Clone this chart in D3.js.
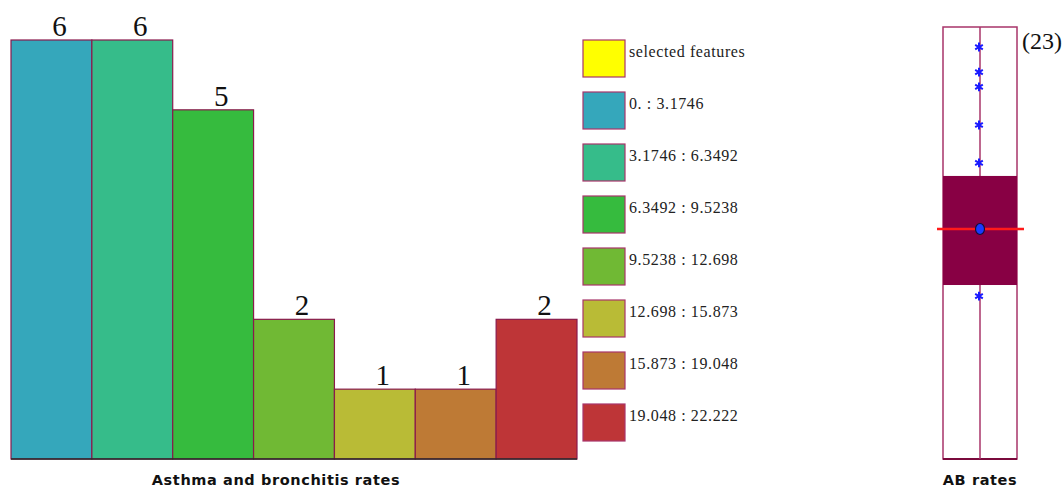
<!DOCTYPE html>
<html>
<head>
<meta charset="utf-8">
<script src="https://cdn.jsdelivr.net/npm/d3@7/dist/d3.min.js"></script>
<style>
  html, body { margin: 0; padding: 0; background: #fff; }
  svg { display: block; }
</style>
</head>
<body>
<svg id="chart" width="1064" height="488"></svg>
<script>
// Histogram of asthma and bronchitis rates (natural-break classes)
const classLabels = ["0. : 3.1746", "3.1746 : 6.3492", "6.3492 : 9.5238", "9.5238 : 12.698",
                     "12.698 : 15.873", "15.873 : 19.048", "19.048 : 22.222"];
const classCounts = [6, 6, 5, 2, 1, 1, 2];
const classColors = ["#35a7bb", "#36bc8a", "#36bb3e", "#70b934", "#b9bb36", "#be7a35", "#be3537"];
const selectedLabel = "selected features";
const selectedColor = "#ffff00";

// Box plot of AB rates
const boxCount = 23;
const boxDomain = [0, 22.222];
const boxQ1 = 8.95;
const boxQ3 = 14.56;
const boxMedian = 11.83;
const boxMean = 11.83;
const boxPoints = [21.19, 19.90, 19.14, 17.18, 15.23, 8.38];

const svg = d3.select("#chart");
const edge = "#8a1a4c";
const serif = "Liberation Serif, Times New Roman, serif";
const sans = "DejaVu Sans, Verdana, sans-serif";

// ---- histogram ----
const histLeft = 11, histRight = 577, histTop = 40, histBottom = 459;
const x = d3.scaleBand().domain(d3.range(classCounts.length)).range([histLeft, histRight]).padding(0);
const y = d3.scaleLinear().domain([0, d3.max(classCounts)]).range([histBottom, histTop]);

const hist = svg.append("g");
hist.selectAll("rect.bar").data(classCounts).join("rect")
  .attr("class", "bar")
  .attr("x", (d, i) => x(i))
  .attr("y", d => y(d))
  .attr("width", x.bandwidth())
  .attr("height", d => y(0) - y(d))
  .attr("fill", (d, i) => classColors[i])
  .attr("stroke", edge)
  .attr("stroke-width", 1.2);

hist.append("line")
  .attr("x1", histLeft).attr("x2", histRight)
  .attr("y1", y(0)).attr("y2", y(0))
  .attr("stroke", "#2a2a2a").attr("stroke-width", 1.5);

// count labels sit slightly right of each bar's centre
hist.selectAll("text.count").data(classCounts).join("text")
  .attr("class", "count")
  .attr("x", (d, i) => x(i) + x.bandwidth() / 2 + 8)
  .attr("y", d => y(d) - 4)
  .attr("text-anchor", "middle")
  .attr("font-family", serif)
  .attr("font-size", 29)
  .attr("fill", "#111")
  .text(d => d);

hist.append("text")
  .attr("x", 276).attr("y", 485)
  .attr("text-anchor", "middle")
  .attr("font-family", sans)
  .attr("font-weight", "bold")
  .attr("font-size", 14.5)
  .attr("letter-spacing", 0.6)
  .attr("fill", "#111")
  .text("Asthma and bronchitis rates");

// ---- legend ----
const legendItems = [{ label: selectedLabel, color: selectedColor }]
  .concat(classLabels.map((l, i) => ({ label: l, color: classColors[i] })));
const legendY = d3.scaleBand().domain(d3.range(legendItems.length)).range([40, 456]).paddingInner(0);
const legend = svg.append("g");
const row = legend.selectAll("g").data(legendItems).join("g")
  .attr("transform", (d, i) => `translate(583,${legendY(i)})`);
row.append("rect")
  .attr("width", 42).attr("height", 37)
  .attr("fill", d => d.color)
  .attr("stroke", "#a8356a").attr("stroke-width", 1.2);
row.append("text")
  .attr("x", 46).attr("y", 17)
  .attr("font-family", serif)
  .attr("font-size", 16)
  .attr("letter-spacing", 0.6)
  .attr("fill", "#222")
  .text(d => d.label);

// ---- box plot ----
const bx = 980, bLeft = 943, bRight = 1017;
const by = d3.scaleLinear().domain(boxDomain).range([459, 27]);
const box = svg.append("g");
box.append("rect")
  .attr("x", bLeft).attr("y", by(boxDomain[1]))
  .attr("width", bRight - bLeft).attr("height", by(boxDomain[0]) - by(boxDomain[1]))
  .attr("fill", "#fff").attr("stroke", "#a8356a").attr("stroke-width", 1.5);
box.append("line")
  .attr("x1", bLeft).attr("x2", bRight)
  .attr("y1", by(boxDomain[0])).attr("y2", by(boxDomain[0]))
  .attr("stroke", "#7a0a3c").attr("stroke-width", 2);
box.append("line")
  .attr("x1", bx).attr("x2", bx)
  .attr("y1", by(boxDomain[1])).attr("y2", by(boxDomain[0]))
  .attr("stroke", "#a8356a").attr("stroke-width", 1.5);
box.append("rect")
  .attr("x", bLeft).attr("y", by(boxQ3))
  .attr("width", bRight - bLeft).attr("height", by(boxQ1) - by(boxQ3))
  .attr("fill", "#880044");

const star = d3.symbol().type(d3.symbolAsterisk).size(55);
box.selectAll("path.pt").data(boxPoints).join("path")
  .attr("class", "pt")
  .attr("d", star)
  .attr("transform", d => `translate(${bx - 1},${by(d)})`)
  .attr("stroke", "#1a1aff").attr("stroke-width", 2).attr("fill", "none");

box.append("line")
  .attr("x1", 937).attr("x2", 1024)
  .attr("y1", by(boxMedian)).attr("y2", by(boxMedian))
  .attr("stroke", "#ff1a1a").attr("stroke-width", 2.4);
box.append("ellipse")
  .attr("cx", bx).attr("cy", by(boxMean)).attr("rx", 4.5).attr("ry", 5.5)
  .attr("fill", "#1a3aff").attr("stroke", "#10103a").attr("stroke-width", 1.2);

box.append("text")
  .attr("x", 1022).attr("y", 49)
  .attr("font-family", serif)
  .attr("font-size", 24)
  .attr("fill", "#111")
  .text(`(${boxCount})`);

box.append("text")
  .attr("x", 980).attr("y", 485)
  .attr("text-anchor", "middle")
  .attr("font-family", sans)
  .attr("font-weight", "bold")
  .attr("font-size", 14.5)
  .attr("letter-spacing", 0.6)
  .attr("fill", "#111")
  .text("AB rates");
</script>
</body>
</html>
